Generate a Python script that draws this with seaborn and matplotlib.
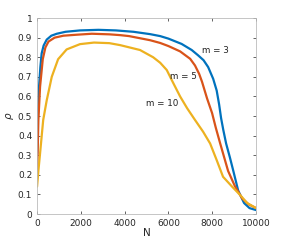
import numpy as np
import pandas as pd
import matplotlib.pyplot as plt
import seaborn as sns

# values, one N grid per curve
N_m3 = [0, 40, 90, 150, 210, 300, 440, 650, 900, 1300, 1960, 2800, 3600, 4400, 5160, 5620,
        6000, 6600, 7060, 7350, 7600, 7810, 8040, 8200, 8310, 8400, 8500, 8630, 8800, 8950,
        9180, 9450, 9700, 10000]
rho_m3 = [0.30, 0.50, 0.65, 0.75, 0.82, 0.86, 0.89, 0.91, 0.92, 0.93, 0.937, 0.94, 0.937, 0.93,
          0.918, 0.908, 0.895, 0.868, 0.837, 0.81, 0.785, 0.75, 0.69, 0.63, 0.56, 0.49, 0.43,
          0.36, 0.29, 0.224, 0.12, 0.056, 0.03, 0.02]

N_m5 = [0, 30, 60, 137, 260, 380, 520, 800, 1200, 1800, 2500, 3300, 3790, 4200, 5160, 5620,
        6000, 6530, 6990, 7210, 7400, 7530, 7760, 7990, 8160, 8360, 8540, 8720, 9040, 9360,
        9650, 10000]
rho_m5 = [0.19, 0.33, 0.48, 0.65, 0.79, 0.85, 0.88, 0.90, 0.91, 0.915, 0.92, 0.917, 0.913,
          0.908, 0.887, 0.873, 0.857, 0.83, 0.792, 0.758, 0.715, 0.675, 0.59, 0.515, 0.44,
          0.36, 0.29, 0.22, 0.14, 0.08, 0.05, 0.03]

N_m10 = [0, 60, 137, 280, 440, 670, 960, 1350, 1960, 2600, 3300, 3790, 4700, 5300, 5620, 5920,
         6210, 6530, 6850, 7210, 7580, 7900, 8200, 8490, 8900, 9270, 9590, 10000]
rho_m10 = [0.14, 0.22, 0.31, 0.48, 0.58, 0.70, 0.79, 0.84, 0.867, 0.875, 0.872, 0.862, 0.837,
           0.80, 0.772, 0.735, 0.67, 0.60, 0.54, 0.48, 0.42, 0.36, 0.275, 0.19, 0.14, 0.097,
           0.056, 0.03]

labels = ["m = 3", "m = 5", "m = 10"]
label_pos = [(8130, 0.837), (6670, 0.70), (5700, 0.566)]
colors = ["#0072BD", "#D95319", "#EDB120"]

df = pd.concat([
    pd.DataFrame({"N": N_m3, "rho": rho_m3, "m": labels[0]}),
    pd.DataFrame({"N": N_m5, "rho": rho_m5, "m": labels[1]}),
    pd.DataFrame({"N": N_m10, "rho": rho_m10, "m": labels[2]}),
])

sns.set_style("white")
plt.rcParams['font.family'] = ['DejaVu Sans']
fig, ax = plt.subplots(figsize=(2.83, 2.41), dpi=100)
fig.subplots_adjust(left=0.131, right=0.905, top=0.925, bottom=0.112)

sns.lineplot(data=df, x="N", y="rho", hue="m", palette=colors, linewidth=1.6,
             legend=False, sort=False, ax=ax)

for lab, (x, y) in zip(labels, label_pos):
    ax.text(x, y, lab, fontsize=6.3, ha="center", va="center", color="#222222")

ax.set_xlim(0, 10000)
ax.set_ylim(0, 1)
ax.set_xticks(np.arange(0, 10001, 2000))
ax.set_yticks(np.arange(0, 1.01, 0.1))
ax.set_yticklabels(["0"] + ["%.1f" % v for v in np.arange(0.1, 0.95, 0.1)] + ["1"])
ax.tick_params(direction="in", length=2.5, labelsize=6.5, colors="#262626",
               top=True, right=True, bottom=True, left=True, width=0.5)
ax.tick_params(labeltop=False, labelright=False)
for s in ax.spines.values():
    s.set_color("#bbbbbb")
    s.set_linewidth(0.6)
ax.set_xlabel("N", fontsize=7.5, labelpad=0)
ax.set_ylabel(r"$\rho$", fontsize=7.5, labelpad=1)

fig.savefig("out.png", dpi=100)
